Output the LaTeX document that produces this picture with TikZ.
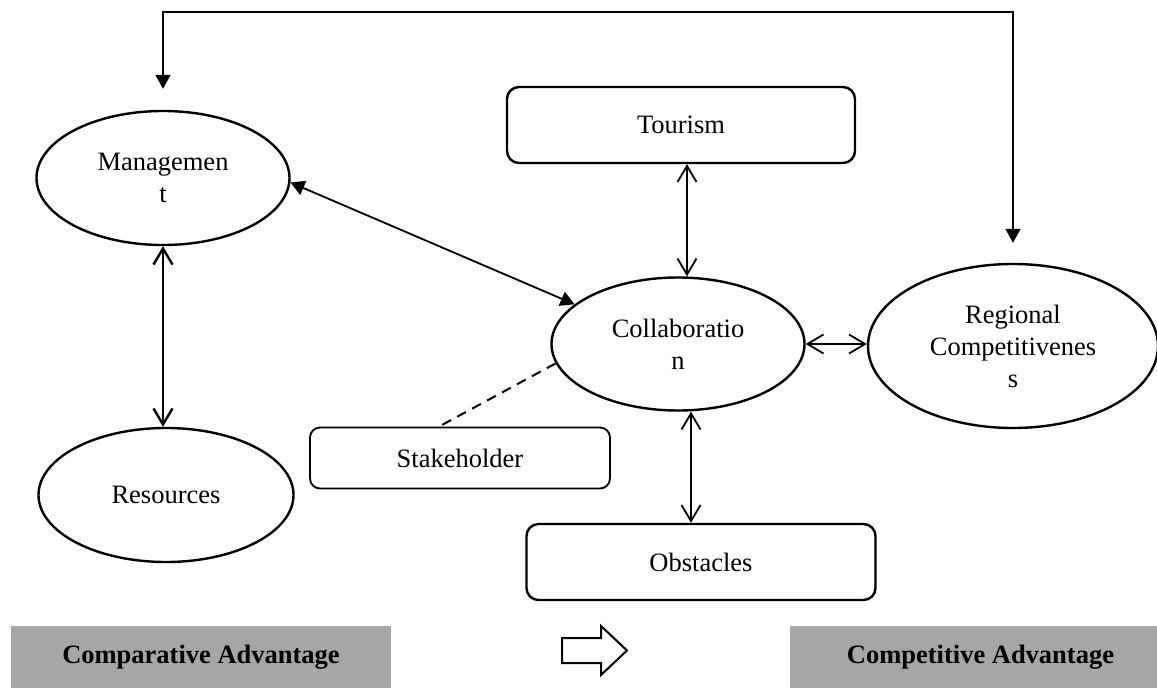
\documentclass[tikz,border=0pt]{standalone}
\usepackage{fontspec}
\setmainfont{Liberation Serif}
\usetikzlibrary{shapes.geometric,arrows.meta}
\definecolor{bandgray}{HTML}{A6A6A6}
\begin{document}
\begin{tikzpicture}[x=1pt,y=-1pt,
  font=\fontsize{26.5}{32}\selectfont,
  oval/.style={ellipse,draw,line width=2.4pt,inner sep=0pt,align=center},
  roundbox/.style={rectangle,rounded corners=12pt,draw,line width=2.4pt,inner sep=0pt},
  band/.style={fill=bandgray,inner sep=0pt,minimum height=62pt,
    font=\bfseries\fontsize{26.5}{32}\selectfont},
  openboth/.style={{Straight Barb[length=16pt,width=19pt]}-{Straight Barb[length=16pt,width=19pt]},line width=1.8pt},
  filledboth/.style={{Triangle[length=14pt,width=15pt]}-{Triangle[length=14pt,width=15pt]},line width=1.8pt}
]
\useasboundingbox (0,0) rectangle (1157,688);

% concepts
\node[oval,minimum width=253pt,minimum height=134pt] (mgmt) at (163,178) {Managemen\\t};
\node[oval,minimum width=255pt,minimum height=134pt] (res) at (166,495) {Resources};
\node[oval,minimum width=253pt,minimum height=133pt] (col) at (678,344) {Collaboratio\\n};
\node[oval,minimum width=290pt,minimum height=164pt] (reg) at (1013,346) {Regional\\Competitivenes\\s};

% boxes
\node[roundbox,minimum width=348pt,minimum height=76pt] (tour) at (681,125) {Tourism};
\node[roundbox,minimum width=300pt,minimum height=61pt,line width=1.8pt,rounded corners=10pt] (stake) at (460,458) {Stakeholder};
\node[roundbox,minimum width=349pt,minimum height=76pt] (obs) at (701,562) {Obstacles};

% feedback loop along the top
\coordinate (mtop) at ([yshift=21pt]mgmt.north);
\coordinate (rtop) at ([yshift=20pt]reg.north);
\draw[filledboth] (mtop) -- ++(0,-77) -| (rtop);

% links
\draw[openboth,line width=2.4pt] (mgmt.south) -- (mgmt.south |- res.north);
\draw[filledboth] (mgmt.-2) -- (col.159);
\draw[openboth] ([xshift=6pt]tour.south) -- ([xshift=6pt]tour.south |- col.north);
\draw[openboth] ([xshift=13pt]col.south) -- ([xshift=13pt]col.south |- obs.north);
\draw[openboth] (col.east) -- (col.east -| reg.west);
\draw[line width=2pt,dash pattern=on 10pt off 7pt] (col.189) -- ([xshift=-21pt]stake.north);

% bottom bands and transition arrow
\node[band,minimum width=380pt] (cmpv) at (201,657) {Comparative Advantage};
\node[band,minimum width=367pt] (cmpt) at (973.5,657) {\hspace*{14pt}Competitive Advantage};
\draw[line width=2pt,fill=white] (562,638) -- (601,638) -- (601,626) -- (627,650.5)
  -- (601,675) -- (601,663) -- (562,663) -- cycle;
\end{tikzpicture}
\end{document}
